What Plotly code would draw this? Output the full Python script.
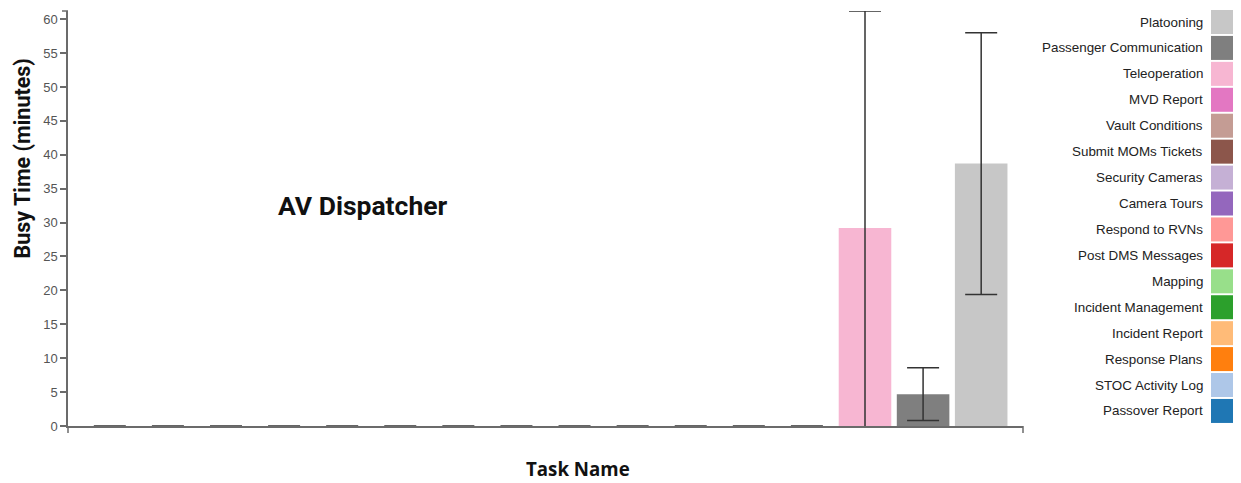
import plotly.graph_objects as go

tasks = ["Passover Report", "STOC Activity Log", "Response Plans", "Incident Report",
         "Incident Management", "Mapping", "Post DMS Messages", "Respond to RVNs",
         "Camera Tours", "Security Cameras", "Submit MOMs Tickets", "Vault Conditions",
         "MVD Report", "Teleoperation", "Passenger Communication", "Platooning"]
busy_minutes = [0, 0, 0, 0, 0, 0, 0, 0, 0, 0, 0, 0, 0, 29.2, 4.7, 38.7]
busy_error = [0, 0, 0, 0, 0, 0, 0, 0, 0, 0, 0, 0, 0, 32.0, 3.9, 19.3]
colors = ["#1f77b4", "#aec7e8", "#ff7f0e", "#ffbb78", "#2ca02c", "#98df8a",
          "#d62728", "#ff9896", "#9467bd", "#c5b0d5", "#8c564b", "#c49c94",
          "#e377c2", "#f7b6d2", "#7f7f7f", "#c7c7c7"]
y_ticks = [0, 5, 10, 15, 20, 25, 30, 35, 40, 45, 50, 55, 60]

OFF = 8  # page body margin
W, H = 1241 - OFF, 483 - OFF
L, R, T, B = 68 - OFF, 1023 - OFF, 11 - OFF, 426 - OFF
axis_col = "#6b6b6b"


def px(xp):
    return (xp - OFF - L) / (R - L)


def py(yp):
    return (B - (yp - OFF)) / (B - T)


fig = go.Figure()
fig.add_trace(go.Bar(
    x=tasks, y=busy_minutes, marker=dict(color=colors, line=dict(width=0)),
    error_y=dict(type="data", array=busy_error, visible=True,
                 color="#333333", thickness=1.5, width=16),
    showlegend=False, hoverinfo="x+y",
))

n = len(tasks)
pad = 0.22
fig.update_layout(
    width=W, height=H,
    margin=dict(l=L, r=W - R, t=T, b=H - B, pad=0),
    plot_bgcolor="white", paper_bgcolor="white",
    bargap=0.095,
    xaxis=dict(range=[-0.5 - pad, n - 0.5 + pad], showticklabels=False, ticks="",
               showgrid=False, zeroline=False, showline=True, linecolor=axis_col,
               linewidth=1.5, fixedrange=True),
    yaxis=dict(range=[0, 61.2], tickvals=y_ticks, ticks="outside", ticklen=6,
               tickcolor=axis_col, tickwidth=1.5, showgrid=False, zeroline=False,
               showline=True, linecolor=axis_col, linewidth=1.5,
               tickfont=dict(family="Liberation Sans, Arial", size=13, color="#555555")),
    font=dict(family="Liberation Sans, Arial"),
)

shapes = [
    # domain end ticks (d3 style)
    dict(type="line", xref="paper", yref="paper", x0=0, x1=-6 / (R - L), y0=1, y1=1,
         line=dict(color=axis_col, width=1.5)),
    dict(type="line", xref="paper", yref="paper", x0=0, x1=0, y0=0, y1=-7 / (B - T),
         line=dict(color=axis_col, width=1.5)),
    dict(type="line", xref="paper", yref="paper", x0=1, x1=1, y0=0, y1=-7 / (B - T),
         line=dict(color=axis_col, width=1.5)),
]
annotations = [
    dict(text="<b>AV Dispatcher</b>", xref="paper", yref="paper",
         x=px(363), y=py(205), xanchor="center", yanchor="middle", showarrow=False,
         font=dict(family="Roboto", size=26.5, color="#111111")),
    dict(text="<b>Task Name</b>", xref="paper", yref="paper",
         x=px(578), y=py(468), xanchor="center", yanchor="middle", showarrow=False,
         font=dict(family="Open Sans", size=18.7, color="#111111")),
    dict(text="<b>Busy Time (minutes)</b>", xref="paper", yref="paper", textangle=-90,
         x=px(OFF), y=py(159), xanchor="left", yanchor="middle", showarrow=False,
         borderpad=0,
         font=dict(family="Roboto", size=21.5, color="#111111")),
]

# legend drawn on the right: labels right-aligned, swatch to the right
sw = 24
row_step = 25.93
first_center = 22
for i, (name, col) in enumerate(zip(reversed(tasks), reversed(colors))):
    cy = first_center + i * row_step
    shapes.append(dict(type="rect", xref="paper", yref="paper",
                       x0=px(1211), x1=px(1211 + sw),
                       y0=py(cy - sw / 2), y1=py(cy + sw / 2),
                       fillcolor=col, line=dict(width=0)))
    annotations.append(dict(text=name, xref="paper", yref="paper",
                            x=px(1205), y=py(cy),
                            xanchor="right", yanchor="middle", showarrow=False,
                            font=dict(family="Liberation Sans, Arial", size=13.4,
                                      color="#222222")))

fig.update_layout(shapes=shapes, annotations=annotations)
fig.write_html("out.html")
